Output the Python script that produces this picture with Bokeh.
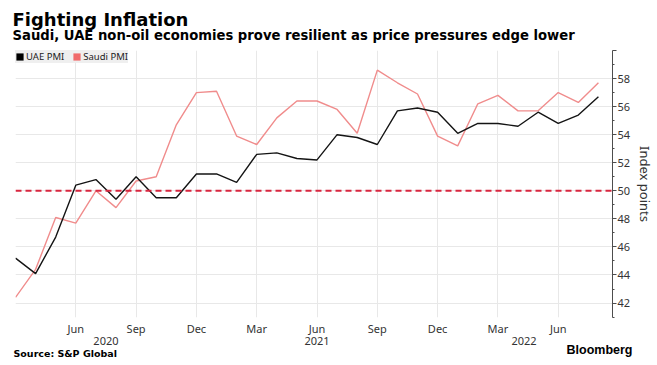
import numpy as np
from bokeh.plotting import figure
from bokeh.models import (FixedTicker, LinearAxis, Span, Legend, LegendItem,
                          Range1d, ColumnDataSource, Title)
from bokeh.embed import file_html
from bokeh.resources import INLINE

# ---------------- data ----------------
months = ["2020-03", "2020-04", "2020-05", "2020-06", "2020-07", "2020-08", "2020-09",
          "2020-10", "2020-11", "2020-12", "2021-01", "2021-02", "2021-03", "2021-04",
          "2021-05", "2021-06", "2021-07", "2021-08", "2021-09", "2021-10", "2021-11",
          "2021-12", "2022-01", "2022-02", "2022-03", "2022-04", "2022-05", "2022-06",
          "2022-07", "2022-08"]
uae_pmi = [45.2, 44.1, 46.7, 50.4, 50.8, 49.4, 51.0, 49.5, 49.5, 51.2,
           51.2, 50.6, 52.6, 52.7, 52.3, 52.2, 54.0, 53.8, 53.3, 55.7,
           55.9, 55.6, 54.1, 54.8, 54.8, 54.6, 55.6, 54.8, 55.4, 56.7]
saudi_pmi = [42.4, 44.4, 48.1, 47.7, 50.0, 48.8, 50.7, 51.0, 54.7, 57.0,
             57.1, 53.9, 53.3, 55.2, 56.4, 56.4, 55.8, 54.1, 58.6, 57.7,
             56.9, 53.9, 53.2, 56.2, 56.8, 55.7, 55.7, 57.0, 56.3, 57.7]
series_names = ["UAE PMI", "Saudi PMI"]
y_ticks = [42, 44, 46, 48, 50, 52, 54, 56, 58, 60]
y_minor = [41, 43, 45, 47, 49, 51, 53, 55, 57, 59]
threshold = 50
month_abbr = {3: "Mar", 6: "Jun", 9: "Sep", 12: "Dec"}
year_labels = ["2020", "2021", "2022"]
year_label_pos = [4.5, 15.0, 25.3]

title = "Fighting Inflation"
subtitle = "Saudi, UAE non-oil economies prove resilient as price pressures edge lower"
source = "Source: S&P Global"
brand = "Bloomberg"

# ---------------- derived ----------------
x = list(range(len(months)))
src = ColumnDataSource(dict(x=x, uae=uae_pmi, saudi=saudi_pmi))
month_ticks = [i for i, m in enumerate(months) if int(m[5:]) % 3 == 0]
month_overrides = {i: (month_abbr[int(months[i][5:])] if i > 0 else "") for i in month_ticks}

UAE_COL = "#141414"
SAUDI_COL = "#f08c8c"
SAUDI_LEG = "#f06a6a"
GRID = "#e8e8e8"
TXT = "#333333"

p = figure(width=657, height=365, output_backend="svg", toolbar_location=None,
           x_range=Range1d(0, 29.7), y_range=Range1d(40.97, 60.0),
           y_axis_location="right", min_border_left=15, min_border_right=45,
           min_border_top=50, min_border_bottom=48,
           background_fill_color="white", border_fill_color="white",
           outline_line_color=None)

# x axis (months)
month_ticker = FixedTicker(ticks=month_ticks)
xa = p.xaxis[0]
xa.ticker = month_ticker
xa.major_label_overrides = month_overrides
xa.axis_line_color = None
xa.major_tick_line_color = None
xa.minor_tick_line_color = None
xa.major_tick_out = 0
xa.major_tick_in = 0
xa.minor_tick_out = 0
xa.major_label_text_font = "Noto Sans"
xa.major_label_text_font_size = "11px"
xa.major_label_text_color = TXT
xa.major_label_standoff = 3

# year axis
year_axis = LinearAxis(ticker=FixedTicker(ticks=year_label_pos),
                       major_label_overrides={p_: l for p_, l in zip(year_label_pos, year_labels)},
                       axis_line_color=None, major_tick_line_color=None,
                       minor_tick_line_color=None, major_tick_out=0, major_tick_in=0,
                       minor_tick_out=0,
                       major_label_text_font="Noto Sans", major_label_text_font_size="11px",
                       major_label_text_color=TXT, major_label_standoff=-2)
p.add_layout(year_axis, "below")

# y axis (right)
y_ticker = FixedTicker(ticks=y_ticks, minor_ticks=y_minor)
ya = p.yaxis[0]
ya.ticker = y_ticker
ya.major_label_overrides = {60: ""}
ya.axis_line_color = "#4d4d4d"
ya.major_tick_line_color = "#4d4d4d"
ya.minor_tick_line_color = "#4d4d4d"
ya.major_tick_in = 0
ya.major_tick_out = 4
ya.minor_tick_in = 0
ya.minor_tick_out = 2
ya.major_label_standoff = 1
ya.major_label_text_font = "Noto Sans"
ya.major_label_text_font_size = "11px"
ya.major_label_text_color = TXT
ya.axis_label = "Index points"
ya.axis_label_text_font = "Noto Sans"
ya.axis_label_text_font_size = "13px"
ya.axis_label_text_font_style = "normal"
ya.axis_label_text_color = TXT
ya.axis_label_standoff = 3

p.xgrid.ticker = month_ticker
p.ygrid.ticker = y_ticker
p.xgrid.grid_line_color = GRID
p.ygrid.grid_line_color = GRID

# series
p.line("x", "saudi", source=src, line_color=SAUDI_COL, line_width=1.4)
p.line("x", "uae", source=src, line_color=UAE_COL, line_width=1.4)

p.add_layout(Span(location=threshold, dimension="width", line_color="#d9263f",
                  line_dash="6 4", line_width=2))

# legend with square swatches (hidden bar renderers)
r_uae = p.vbar(x="x", top="uae", width=0.5, source=src, fill_color="black",
               line_color=None, visible=False)
r_sau = p.vbar(x="x", top="saudi", width=0.5, source=src, fill_color=SAUDI_LEG,
               line_color=None, visible=False)
legend = Legend(items=[LegendItem(label=series_names[0], renderers=[r_uae]),
                       LegendItem(label=series_names[1], renderers=[r_sau])],
                location="top_left", orientation="horizontal", margin=0, padding=4,
                spacing=8, glyph_width=9, glyph_height=9, label_height=10,
                label_standoff=2, background_fill_color="#efefef",
                background_fill_alpha=1.0, border_line_color=None,
                label_text_font="Noto Sans", label_text_font_size="9.5px",
                label_text_color="#222222")
p.add_layout(legend, "center")

# titles (first added = nearest to the frame)
p.add_layout(Title(text=subtitle, align="left", offset=-3, standoff=15,
                   text_font="DejaVu Sans", text_font_style="bold",
                   text_font_size="13.2px", text_color="#000000"), "above")
p.add_layout(Title(text=title, align="left", offset=-3, standoff=-23,
                   text_font="DejaVu Sans", text_font_style="bold",
                   text_font_size="18px", text_color="#000000"), "above")

# footer
p.add_layout(Title(text=brand, align="right", offset=-20, standoff=-14,
                   text_font="Liberation Sans", text_font_style="bold",
                   text_font_size="12.5px", text_color="#000000"), "below")
p.add_layout(Title(text=source, align="left", offset=-2, standoff=-8,
                   text_font="DejaVu Sans", text_font_style="bold",
                   text_font_size="9.5px", text_color="#000000"), "below")

open("out.html", "w").write(file_html(p, INLINE))
